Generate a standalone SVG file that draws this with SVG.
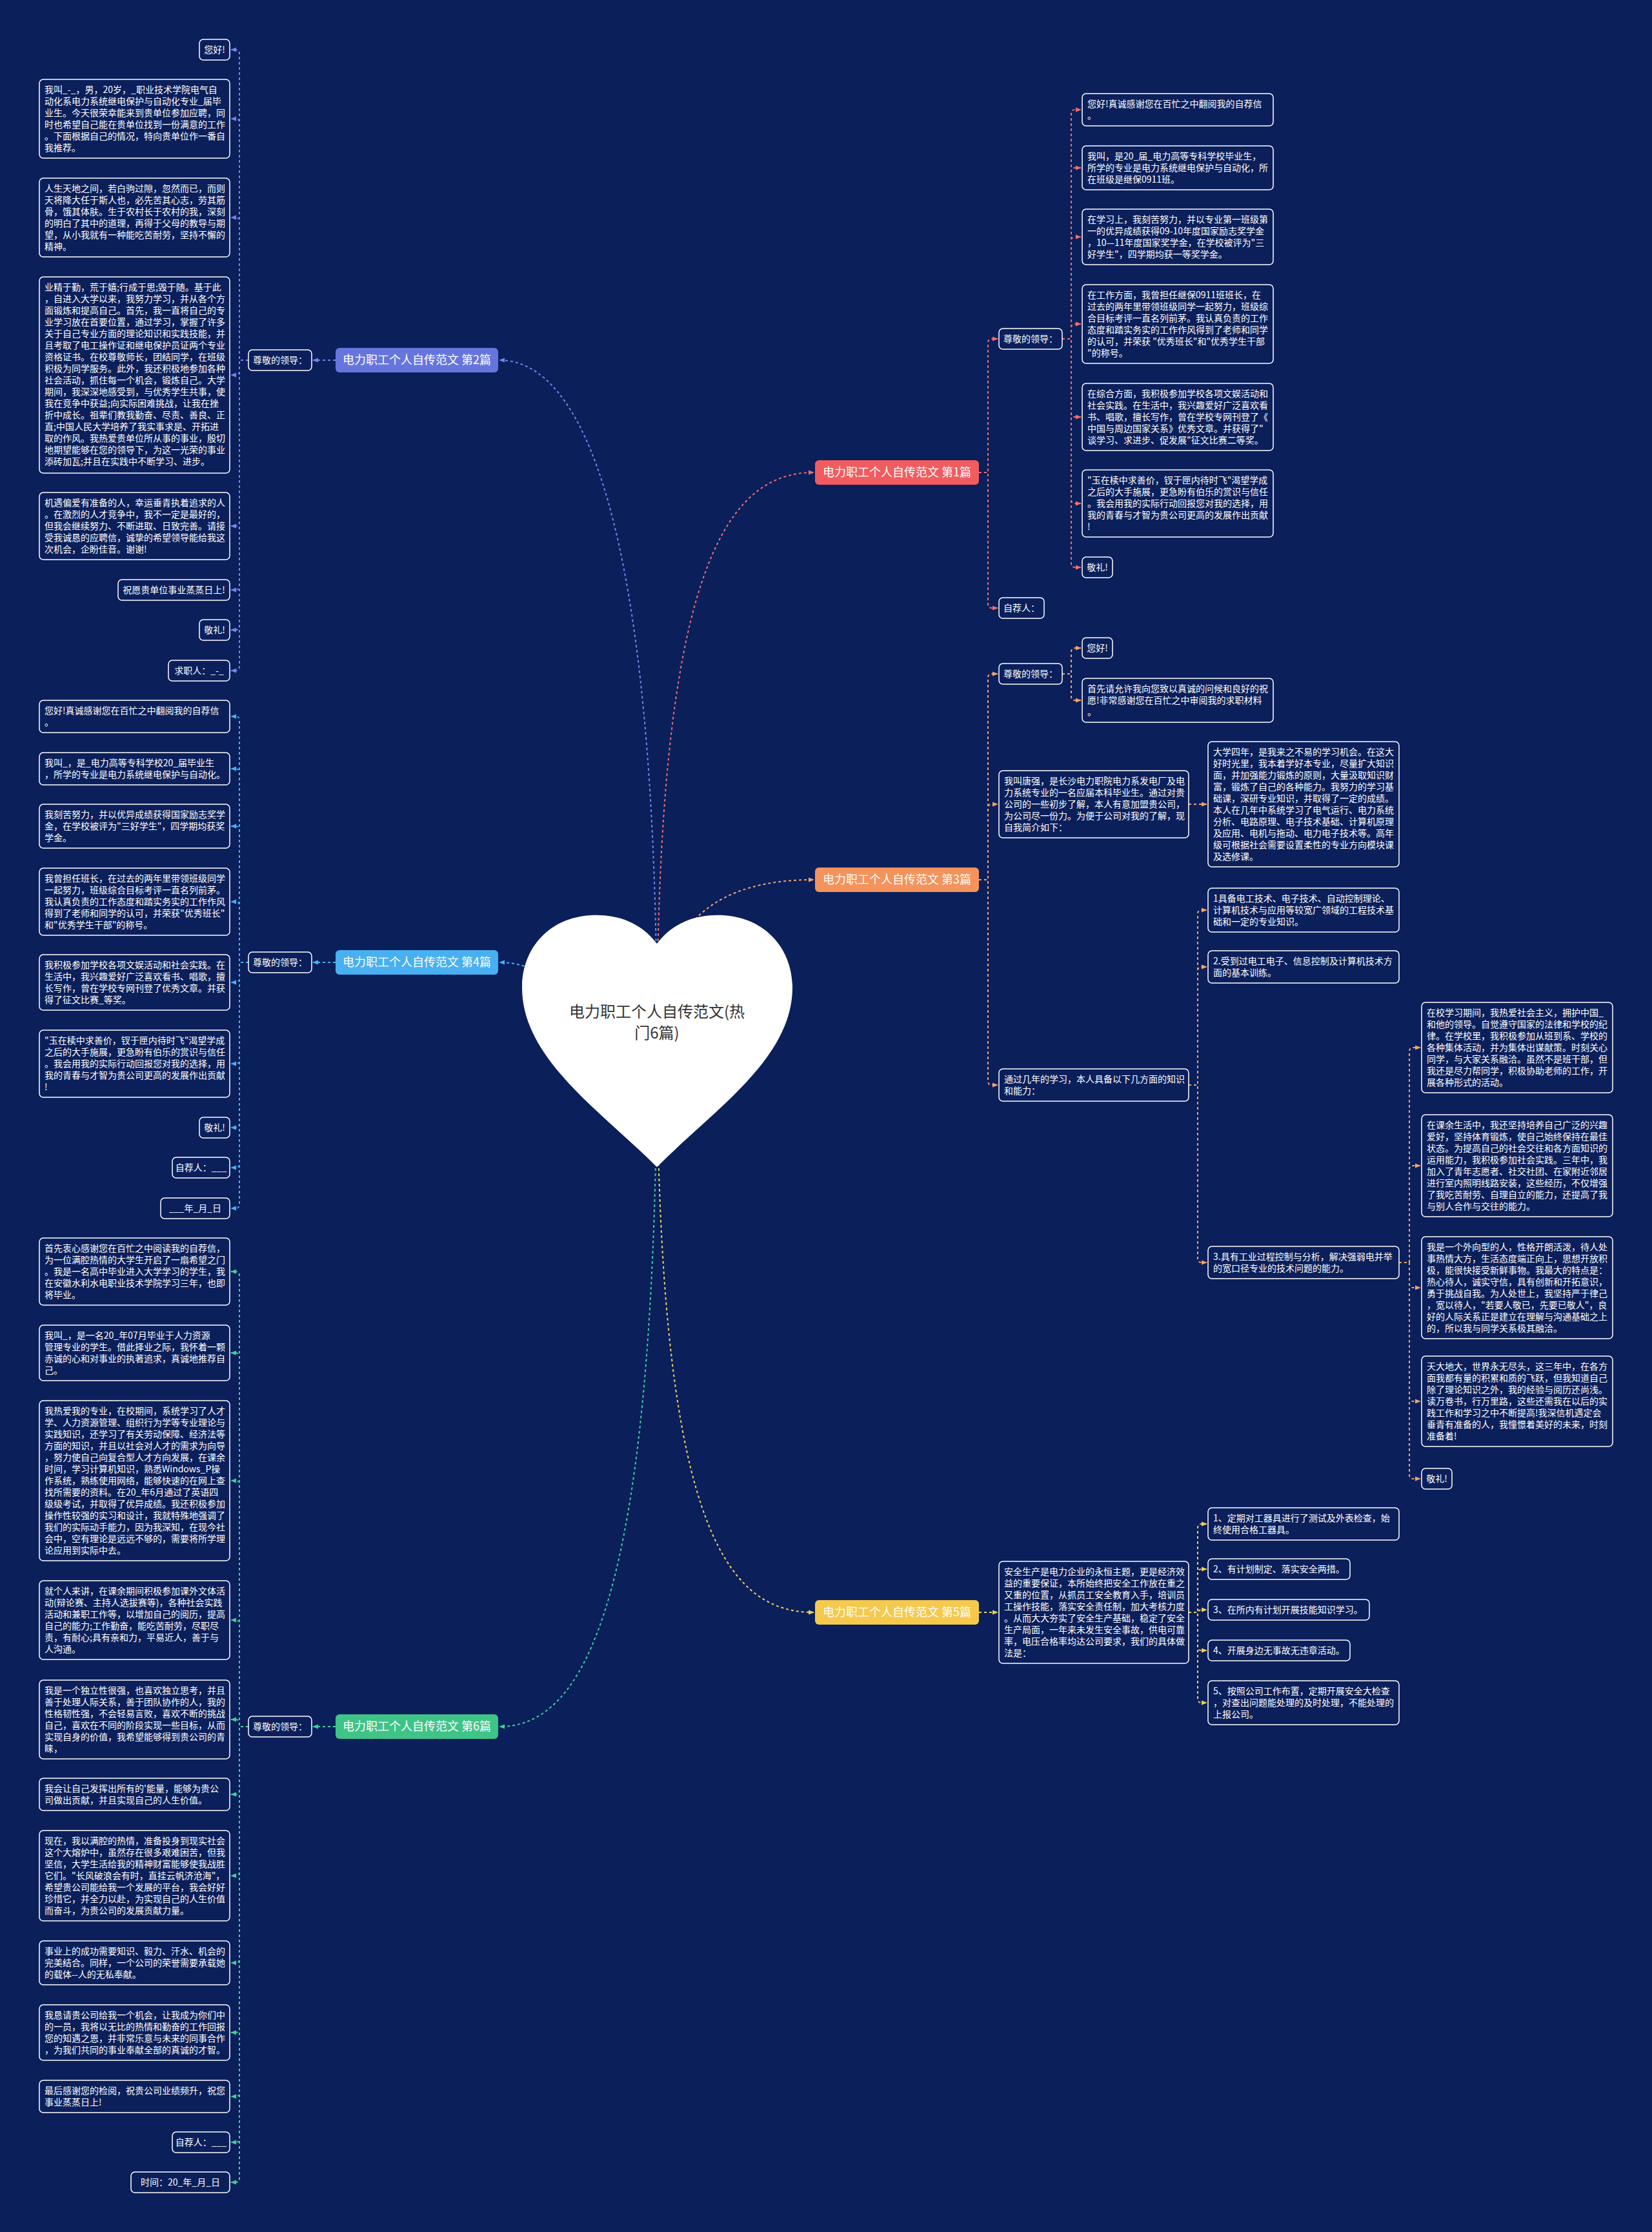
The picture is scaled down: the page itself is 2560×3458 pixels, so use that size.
<svg xmlns="http://www.w3.org/2000/svg" width="2560" height="3458" viewBox="0 0 2560 3458">
<defs>
<style>
.lf{fill:#0b1f5b;stroke:#ffffff;stroke-width:1.5}
.t{font-family:'Noto Sans CJK SC','Noto Sans',sans-serif;font-size:14px;fill:#ffffff}
.tm{font-family:'Noto Sans CJK SC','Noto Sans',sans-serif;font-size:14px;fill:#ffffff;text-anchor:middle}
.bt{font-family:'Noto Sans CJK SC','Noto Sans',sans-serif;font-size:18px;text-anchor:middle}
.ht{font-family:'Noto Sans CJK SC','Noto Sans',sans-serif;font-size:24px;fill:#333333;text-anchor:middle}
.c{fill:none;stroke-width:2;stroke-dasharray:4 4}
.k1{stroke:#f0706f}.k2{stroke:#7585ee}.k3{stroke:#f5a268}.k4{stroke:#45b2f5}.k5{stroke:#f0d25a}.k6{stroke:#3fd09a}
</style>
<marker id="a1" viewBox="0 0 10 10" refX="9" refY="5" markerWidth="9" markerHeight="9" markerUnits="userSpaceOnUse" orient="auto"><path d="M0 1L10 5L0 9z" fill="#f0706f"/></marker>
<marker id="a2" viewBox="0 0 10 10" refX="9" refY="5" markerWidth="9" markerHeight="9" markerUnits="userSpaceOnUse" orient="auto"><path d="M0 1L10 5L0 9z" fill="#7585ee"/></marker>
<marker id="a3" viewBox="0 0 10 10" refX="9" refY="5" markerWidth="9" markerHeight="9" markerUnits="userSpaceOnUse" orient="auto"><path d="M0 1L10 5L0 9z" fill="#f5a268"/></marker>
<marker id="a4" viewBox="0 0 10 10" refX="9" refY="5" markerWidth="9" markerHeight="9" markerUnits="userSpaceOnUse" orient="auto"><path d="M0 1L10 5L0 9z" fill="#45b2f5"/></marker>
<marker id="a5" viewBox="0 0 10 10" refX="9" refY="5" markerWidth="9" markerHeight="9" markerUnits="userSpaceOnUse" orient="auto"><path d="M0 1L10 5L0 9z" fill="#f0d25a"/></marker>
<marker id="a6" viewBox="0 0 10 10" refX="9" refY="5" markerWidth="9" markerHeight="9" markerUnits="userSpaceOnUse" orient="auto"><path d="M0 1L10 5L0 9z" fill="#3fd09a"/></marker>
</defs>
<rect x="0" y="0" width="2560" height="3458" fill="#0b1f5b"/>

<g id="connectors">
<g class="c k1" marker-end="url(#a1)">
<path d="M1018 1610C1018 900 1120 732 1261 732"/>
<path d="M1517 732H1531V531Q1531 525 1537 525H1546"/>
<path d="M1517 732H1531V936Q1531 942 1537 942H1546"/>
<path d="M1646 525H1660V176Q1660 170 1666 170H1675"/>
<path d="M1646 525H1660V266Q1660 260 1666 260H1675"/>
<path d="M1646 525H1660V373Q1660 367 1666 367H1675"/>
<path d="M1646 525H1660V508Q1660 502 1666 502H1675"/>
<path d="M1646 525H1660V640Q1660 646 1666 646H1675"/>
<path d="M1646 525H1660V774Q1660 780 1666 780H1675"/>
<path d="M1646 525H1660V873Q1660 879 1666 879H1675"/>
</g>
<g class="c k2" marker-end="url(#a2)">
<path d="M1018 1610C1018 800 900 558 774 558"/>
<path d="M520 558H485"/>
<path d="M385 558H371V83Q371 77 365 77H358"/>
<path d="M385 558H371V190Q371 184 365 184H358"/>
<path d="M385 558H371V343Q371 337 365 337H358"/>
<path d="M385 558H371V575Q371 581 365 581H358"/>
<path d="M385 558H371V809Q371 815 365 815H358"/>
<path d="M385 558H371V908Q371 914 365 914H358"/>
<path d="M385 558H371V970Q371 976 365 976H358"/>
<path d="M385 558H371V1033Q371 1039 365 1039H358"/>
</g>
<g class="c k3" marker-end="url(#a3)">
<path d="M1018 1610C1018 1420 1120 1363 1261 1363"/>
<path d="M1517 1363H1531V1050Q1531 1044 1537 1044H1546"/>
<path d="M1517 1363H1531V1252Q1531 1246 1537 1246H1546"/>
<path d="M1517 1363H1531V1675Q1531 1681 1537 1681H1546"/>
<path d="M1646 1044H1660V1010Q1660 1004 1666 1004H1675"/>
<path d="M1646 1044H1660V1079Q1660 1085 1666 1085H1675"/>
<path d="M1842 1246H1870"/>
<path d="M1842 1681H1856V1416Q1856 1410 1862 1410H1870"/>
<path d="M1842 1681H1856V1504Q1856 1498 1862 1498H1870"/>
<path d="M1842 1681H1856V1950Q1856 1956 1862 1956H1870"/>
<path d="M2168 1956H2184V1629Q2184 1623 2190 1623H2201"/>
<path d="M2168 1956H2184V1812Q2184 1806 2190 1806H2201"/>
<path d="M2168 1956H2184V1989Q2184 1995 2190 1995H2201"/>
<path d="M2168 1956H2184V2165Q2184 2171 2190 2171H2201"/>
<path d="M2168 1956H2184V2285Q2184 2291 2190 2291H2201"/>
</g>
<g class="c k4" marker-end="url(#a4)">
<path d="M1018 1610C900 1610 880 1491 774 1491"/>
<path d="M520 1491H485"/>
<path d="M385 1491H371V1116Q371 1110 365 1110H358"/>
<path d="M385 1491H371V1197Q371 1191 365 1191H358"/>
<path d="M385 1491H371V1286Q371 1280 365 1280H358"/>
<path d="M385 1491H371V1403Q371 1397 365 1397H358"/>
<path d="M385 1491H371V1516Q371 1522 365 1522H358"/>
<path d="M385 1491H371V1642Q371 1648 365 1648H358"/>
<path d="M385 1491H371V1741Q371 1747 365 1747H358"/>
<path d="M385 1491H371V1803Q371 1809 365 1809H358"/>
<path d="M385 1491H371V1866Q371 1872 365 1872H358"/>
</g>
<g class="c k5" marker-end="url(#a5)">
<path d="M1018 1610C1018 2350 1120 2498 1261 2498"/>
<path d="M1517 2498H1546"/>
<path d="M1842 2498H1856V2367Q1856 2361 1862 2361H1870"/>
<path d="M1842 2498H1856V2437Q1856 2431 1862 2431H1870"/>
<path d="M1842 2498H1856Q1858 2494 1862 2494H1870"/>
<path d="M1842 2498H1856V2551Q1856 2557 1862 2557H1870"/>
<path d="M1842 2498H1856V2632Q1856 2638 1862 2638H1870"/>
</g>
<g class="c k6" marker-end="url(#a6)">
<path d="M1018 1610C1018 2500 900 2675 774 2675"/>
<path d="M520 2675H485"/>
<path d="M385 2675H371V1976Q371 1970 365 1970H358"/>
<path d="M385 2675H371V2102Q371 2096 365 2096H358"/>
<path d="M385 2675H371V2300Q371 2294 365 2294H358"/>
<path d="M385 2675H371V2516Q371 2510 365 2510H358"/>
<path d="M385 2675H371V2670Q371 2664 365 2664H358"/>
<path d="M385 2675H371V2774Q371 2780 365 2780H358"/>
<path d="M385 2675H371V2900Q371 2906 365 2906H358"/>
<path d="M385 2675H371V3035Q371 3041 365 3041H358"/>
<path d="M385 2675H371V3143Q371 3149 365 3149H358"/>
<path d="M385 2675H371V3242Q371 3248 365 3248H358"/>
<path d="M385 2675H371V3313Q371 3319 365 3319H358"/>
<path d="M385 2675H371V3375Q371 3381 365 3381H358"/>
</g>
</g>

<g id="root">
<path d="M1018 1462C990 1425 950 1416 915 1418C850 1422 809 1470 809 1530C809 1640 930 1720 1018 1808C1106 1720 1228 1640 1228 1530C1228 1470 1186 1422 1121 1418C1086 1416 1046 1425 1018 1462Z" fill="#ffffff"/>
<text class="ht"><tspan x="1018" y="1576">电力职工个人自传范文(热</tspan><tspan x="1018" y="1609">门6篇)</tspan></text>
</g>

<g id="b1"><rect x="1263" y="713" width="254" height="38" rx="6" fill="#f15c5f"/><text class="bt" x="1390" y="738" fill="#ffffff">电力职工个人自传范文 第1篇</text></g>
<g id="b2"><rect x="520" y="539" width="252" height="38" rx="6" fill="#6675dd"/><text class="bt" x="646" y="564" fill="#ffffff">电力职工个人自传范文 第2篇</text></g>
<g id="b3"><rect x="1263" y="1344" width="254" height="38" rx="6" fill="#f4935b"/><text class="bt" x="1390" y="1369" fill="#ffffff">电力职工个人自传范文 第3篇</text></g>
<g id="b4"><rect x="520" y="1472" width="252" height="38" rx="6" fill="#48b0f0"/><text class="bt" x="646" y="1497" fill="#ffffff">电力职工个人自传范文 第4篇</text></g>
<g id="b5"><rect x="1263" y="2479" width="254" height="38" rx="6" fill="#f5c94c"/><text class="bt" x="1390" y="2504" fill="#ffffff">电力职工个人自传范文 第5篇</text></g>
<g id="b6"><rect x="520" y="2656" width="252" height="38" rx="6" fill="#3fc488"/><text class="bt" x="646" y="2681" fill="#ffffff">电力职工个人自传范文 第6篇</text></g>

<!-- branch 2 -->
<g id="b2-s"><rect class="lf" x="385" y="542" width="98" height="32" rx="6"/><text class="tm" x="434" y="563">尊敬的领导：</text></g>
<g id="b2-1"><rect class="lf" x="309" y="61" width="47" height="32" rx="6"/><text class="tm" x="332.5" y="82">您好!</text></g>
<g id="b2-2"><rect class="lf" x="61" y="123" width="295" height="122" rx="6"/><text class="t"><tspan x="69" y="144">我叫_-_，男，20岁，_职业技术学院电气自</tspan><tspan x="69" y="162">动化系电力系统继电保护与自动化专业_届毕</tspan><tspan x="69" y="180">业生。今天很荣幸能来到贵单位参加应聘，同</tspan><tspan x="69" y="198">时也希望自己能在贵单位找到一份满意的工作</tspan><tspan x="69" y="216">。下面根据自己的情况，特向贵单位作一番自</tspan><tspan x="69" y="234">我推荐。</tspan></text></g>
<g id="b2-3"><rect class="lf" x="61" y="276" width="295" height="122" rx="6"/><text class="t"><tspan x="69" y="297">人生天地之间，若白驹过隙，忽然而已，而则</tspan><tspan x="69" y="315">天将降大任于斯人也，必先苦其心志，劳其筋</tspan><tspan x="69" y="333">骨，饿其体肤。生于农村长于农村的我，深刻</tspan><tspan x="69" y="351">的明白了其中的道理，再得于父母的教导与期</tspan><tspan x="69" y="369">望，从小我就有一种能吃苦耐劳，坚持不懈的</tspan><tspan x="69" y="387">精神。</tspan></text></g>
<g id="b2-4"><rect class="lf" x="61" y="429" width="295" height="304" rx="6"/><text class="t"><tspan x="69" y="450">业精于勤，荒于嬉;行成于思;毁于随。基于此</tspan><tspan x="69" y="468">，自进入大学以来，我努力学习，并从各个方</tspan><tspan x="69" y="486">面锻炼和提高自己。首先，我一直将自己的专</tspan><tspan x="69" y="504">业学习放在首要位置，通过学习，掌握了许多</tspan><tspan x="69" y="522">关于自己专业方面的理论知识和实践技能，并</tspan><tspan x="69" y="540">且考取了电工操作证和继电保护员证两个专业</tspan><tspan x="69" y="558">资格证书。在校尊敬师长，团结同学，在班级</tspan><tspan x="69" y="576">积极为同学服务。此外，我还积极地参加各种</tspan><tspan x="69" y="594">社会活动，抓住每一个机会，锻炼自己。大学</tspan><tspan x="69" y="612">期间，我深深地感受到，与优秀学生共事，使</tspan><tspan x="69" y="630">我在竞争中获益;向实际困难挑战，让我在挫</tspan><tspan x="69" y="648">折中成长。祖辈们教我勤奋、尽责、善良、正</tspan><tspan x="69" y="666">直;中国人民大学培养了我实事求是、开拓进</tspan><tspan x="69" y="684">取的作风。我热爱贵单位所从事的事业，殷切</tspan><tspan x="69" y="702">地期望能够在您的领导下，为这一光荣的事业</tspan><tspan x="69" y="720">添砖加瓦;并且在实践中不断学习、进步。</tspan></text></g>
<g id="b2-5"><rect class="lf" x="61" y="763" width="295" height="104" rx="6"/><text class="t"><tspan x="69" y="784">机遇偏爱有准备的人，幸运垂青执着追求的人</tspan><tspan x="69" y="802">。在激烈的人才竞争中，我不一定是最好的，</tspan><tspan x="69" y="820">但我会继续努力、不断进取、日致完善。请接</tspan><tspan x="69" y="838">受我诚恳的应聘信，诚挚的希望领导能给我这</tspan><tspan x="69" y="856">次机会，企盼佳音。谢谢!</tspan></text></g>
<g id="b2-6"><rect class="lf" x="183" y="898" width="173" height="32" rx="6"/><text class="tm" x="269.5" y="919">祝愿贵单位事业蒸蒸日上!</text></g>
<g id="b2-7"><rect class="lf" x="309" y="960" width="47" height="32" rx="6"/><text class="tm" x="332.5" y="981">敬礼!</text></g>
<g id="b2-8"><rect class="lf" x="261" y="1023" width="95" height="32" rx="6"/><text class="tm" x="308.5" y="1044">求职人：_-_</text></g>

<!-- branch 4 -->
<g id="b4-s"><rect class="lf" x="385" y="1475" width="98" height="32" rx="6"/><text class="tm" x="434" y="1496">尊敬的领导：</text></g>
<g id="b4-1"><rect class="lf" x="61" y="1085" width="295" height="50" rx="6"/><text class="t"><tspan x="69" y="1106">您好!真诚感谢您在百忙之中翻阅我的自荐信</tspan><tspan x="69" y="1124">。</tspan></text></g>
<g id="b4-2"><rect class="lf" x="61" y="1166" width="295" height="50" rx="6"/><text class="t"><tspan x="69" y="1187">我叫_，是_电力高等专科学校20_届毕业生</tspan><tspan x="69" y="1205">，所学的专业是电力系统继电保护与自动化。</tspan></text></g>
<g id="b4-3"><rect class="lf" x="61" y="1246" width="295" height="68" rx="6"/><text class="t"><tspan x="69" y="1267">我刻苦努力，并以优异成绩获得国家励志奖学</tspan><tspan x="69" y="1285">金，在学校被评为"三好学生"，四学期均获奖</tspan><tspan x="69" y="1303">学金。</tspan></text></g>
<g id="b4-4"><rect class="lf" x="61" y="1345" width="295" height="104" rx="6"/><text class="t"><tspan x="69" y="1366">我曾担任班长，在过去的两年里带领班级同学</tspan><tspan x="69" y="1384">一起努力，班级综合目标考评一直名列前茅。</tspan><tspan x="69" y="1402">我认真负责的工作态度和踏实务实的工作作风</tspan><tspan x="69" y="1420">得到了老师和同学的认可，并荣获"优秀班长"</tspan><tspan x="69" y="1438">和"优秀学生干部"的称号。</tspan></text></g>
<g id="b4-5"><rect class="lf" x="61" y="1479" width="295" height="86" rx="6"/><text class="t"><tspan x="69" y="1500">我积极参加学校各项文娱活动和社会实践。在</tspan><tspan x="69" y="1518">生活中，我兴趣爱好广泛喜欢看书、唱歌，擅</tspan><tspan x="69" y="1536">长写作，曾在学校专网刊登了优秀文章。并获</tspan><tspan x="69" y="1554">得了征文比赛_等奖。</tspan></text></g>
<g id="b4-6"><rect class="lf" x="61" y="1596" width="295" height="104" rx="6"/><text class="t"><tspan x="69" y="1617">"玉在椟中求善价，钗于匣内待时飞"渴望学成</tspan><tspan x="69" y="1635">之后的大手施展，更急盼有伯乐的赏识与信任</tspan><tspan x="69" y="1653">。我会用我的实际行动回报您对我的选择，用</tspan><tspan x="69" y="1671">我的青春与才智为贵公司更高的发展作出贡献</tspan><tspan x="69" y="1689">!</tspan></text></g>
<g id="b4-7"><rect class="lf" x="309" y="1731" width="47" height="32" rx="6"/><text class="tm" x="332.5" y="1752">敬礼!</text></g>
<g id="b4-8"><rect class="lf" x="267" y="1793" width="89" height="32" rx="6"/><text class="tm" x="311.5" y="1814">自荐人：___</text></g>
<g id="b4-9"><rect class="lf" x="249" y="1856" width="107" height="32" rx="6"/><text class="tm" x="302.5" y="1877">___年_月_日</text></g>

<!-- branch 6 -->
<g id="b6-s"><rect class="lf" x="385" y="2659" width="98" height="32" rx="6"/><text class="tm" x="434" y="2680">尊敬的领导：</text></g>
<g id="b6-1"><rect class="lf" x="61" y="1918" width="295" height="104" rx="6"/><text class="t"><tspan x="69" y="1939">首先衷心感谢您在百忙之中阅读我的自荐信，</tspan><tspan x="69" y="1957">为一位满腔热情的大学生开启了一扇希望之门</tspan><tspan x="69" y="1975">。我是一名高中毕业进入大学学习的学生，我</tspan><tspan x="69" y="1993">在安徽水利水电职业技术学院学习三年，也即</tspan><tspan x="69" y="2011">将毕业。</tspan></text></g>
<g id="b6-2"><rect class="lf" x="61" y="2053" width="295" height="86" rx="6"/><text class="t"><tspan x="69" y="2074">我叫_，是一名20_年07月毕业于人力资源</tspan><tspan x="69" y="2092">管理专业的学生。借此择业之际，我怀着一颗</tspan><tspan x="69" y="2110">赤诚的心和对事业的执著追求，真诚地推荐自</tspan><tspan x="69" y="2128">己。</tspan></text></g>
<g id="b6-3"><rect class="lf" x="61" y="2170" width="295" height="248" rx="6"/><text class="t"><tspan x="69" y="2191">我热爱我的专业，在校期间，系统学习了人才</tspan><tspan x="69" y="2209">学、人力资源管理、组织行为学等专业理论与</tspan><tspan x="69" y="2227">实践知识，还学习了有关劳动保障、经济法等</tspan><tspan x="69" y="2245">方面的知识，并且以社会对人才的需求为向导</tspan><tspan x="69" y="2263">，努力使自己向复合型人才方向发展，在课余</tspan><tspan x="69" y="2281">时间，学习计算机知识，熟悉Windows_P操</tspan><tspan x="69" y="2299">作系统，熟练使用网络，能够快速的在网上查</tspan><tspan x="69" y="2317">找所需要的资料。在20_年6月通过了英语四</tspan><tspan x="69" y="2335">级级考试，并取得了优异成绩。我还积极参加</tspan><tspan x="69" y="2353">操作性较强的实习和设计，我就特殊地强调了</tspan><tspan x="69" y="2371">我们的实际动手能力，因为我深知，在现今社</tspan><tspan x="69" y="2389">会中，空有理论是远远不够的，需要将所学理</tspan><tspan x="69" y="2407">论应用到实际中去。</tspan></text></g>
<g id="b6-4"><rect class="lf" x="61" y="2449" width="295" height="122" rx="6"/><text class="t"><tspan x="69" y="2470">就个人来讲，在课余期间积极参加课外文体活</tspan><tspan x="69" y="2488">动(辩论赛、主持人选拔赛等)，各种社会实践</tspan><tspan x="69" y="2506">活动和兼职工作等，以增加自己的阅历，提高</tspan><tspan x="69" y="2524">自己的能力;工作勤奋，能吃苦耐劳，尽职尽</tspan><tspan x="69" y="2542">责，有耐心;具有亲和力，平易近人，善于与</tspan><tspan x="69" y="2560">人沟通。</tspan></text></g>
<g id="b6-5"><rect class="lf" x="61" y="2603" width="295" height="122" rx="6"/><text class="t"><tspan x="69" y="2624">我是一个独立性很强，也喜欢独立思考，并且</tspan><tspan x="69" y="2642">善于处理人际关系，善于团队协作的人，我的</tspan><tspan x="69" y="2660">性格韧性强，不会轻易言败，喜欢不断的挑战</tspan><tspan x="69" y="2678">自己，喜欢在不同的阶段实现一些目标，从而</tspan><tspan x="69" y="2696">实现自身的价值，我希望能够得到贵公司的青</tspan><tspan x="69" y="2714">睐，</tspan></text></g>
<g id="b6-6"><rect class="lf" x="61" y="2755" width="295" height="50" rx="6"/><text class="t"><tspan x="69" y="2776">我会让自己发挥出所有的'能量，能够为贵公</tspan><tspan x="69" y="2794">司做出贡献，并且实现自己的人生价值。</tspan></text></g>
<g id="b6-7"><rect class="lf" x="61" y="2836" width="295" height="140" rx="6"/><text class="t"><tspan x="69" y="2857">现在，我以满腔的热情，准备投身到现实社会</tspan><tspan x="69" y="2875">这个大熔炉中，虽然存在很多艰难困苦，但我</tspan><tspan x="69" y="2893">坚信，大学生活给我的精神财富能够使我战胜</tspan><tspan x="69" y="2911">它们。"长风破浪会有时，直挂云帆济沧海"，</tspan><tspan x="69" y="2929">希望贵公司能给我一个发展的平台，我会好好</tspan><tspan x="69" y="2947">珍惜它，并全力以赴，为实现自己的人生价值</tspan><tspan x="69" y="2965">而奋斗，为贵公司的发展贡献力量。</tspan></text></g>
<g id="b6-8"><rect class="lf" x="61" y="3007" width="295" height="68" rx="6"/><text class="t"><tspan x="69" y="3028">事业上的成功需要知识、毅力、汗水、机会的</tspan><tspan x="69" y="3046">完美结合。同样，一个公司的荣誉需要承载她</tspan><tspan x="69" y="3064">的载体--人的无私奉献。</tspan></text></g>
<g id="b6-9"><rect class="lf" x="61" y="3106" width="295" height="86" rx="6"/><text class="t"><tspan x="69" y="3127">我恳请贵公司给我一个机会，让我成为你们中</tspan><tspan x="69" y="3145">的一员，我将以无比的热情和勤奋的工作回报</tspan><tspan x="69" y="3163">您的知遇之恩，并非常乐意与未来的同事合作</tspan><tspan x="69" y="3181">，为我们共同的事业奉献全部的真诚的才智。</tspan></text></g>
<g id="b6-10"><rect class="lf" x="61" y="3223" width="295" height="50" rx="6"/><text class="t"><tspan x="69" y="3244">最后感谢您的检阅，祝贵公司业绩频升，祝您</tspan><tspan x="69" y="3262">事业蒸蒸日上!</tspan></text></g>
<g id="b6-11"><rect class="lf" x="267" y="3303" width="89" height="32" rx="6"/><text class="tm" x="311.5" y="3324">自荐人：___</text></g>
<g id="b6-12"><rect class="lf" x="203" y="3365" width="153" height="32" rx="6"/><text class="tm" x="279.5" y="3386">时间：20_年_月_日</text></g>

<!-- branch 1 -->
<g id="b1-s1"><rect class="lf" x="1548" y="509" width="98" height="32" rx="6"/><text class="tm" x="1597" y="530">尊敬的领导：</text></g>
<g id="b1-s2"><rect class="lf" x="1548" y="926" width="70" height="32" rx="6"/><text class="tm" x="1583" y="947">自荐人：</text></g>
<g id="b1-1"><rect class="lf" x="1677" y="145" width="296" height="50" rx="6"/><text class="t"><tspan x="1685" y="166">您好!真诚感谢您在百忙之中翻阅我的自荐信</tspan><tspan x="1685" y="184">。</tspan></text></g>
<g id="b1-2"><rect class="lf" x="1677" y="226" width="296" height="68" rx="6"/><text class="t"><tspan x="1685" y="247">我叫，是20_届_电力高等专科学校毕业生，</tspan><tspan x="1685" y="265">所学的专业是电力系统继电保护与自动化，所</tspan><tspan x="1685" y="283">在班级是继保0911班。</tspan></text></g>
<g id="b1-3"><rect class="lf" x="1677" y="324" width="296" height="86" rx="6"/><text class="t"><tspan x="1685" y="345">在学习上，我刻苦努力，并以专业第一班级第</tspan><tspan x="1685" y="363">一的优异成绩获得09-10年度国家励志奖学金</tspan><tspan x="1685" y="381">，10—11年度国家奖学金，在学校被评为"三</tspan><tspan x="1685" y="399">好学生"，四学期均获一等奖学金。</tspan></text></g>
<g id="b1-4"><rect class="lf" x="1677" y="441" width="296" height="122" rx="6"/><text class="t"><tspan x="1685" y="462">在工作方面，我曾担任继保0911班班长，在</tspan><tspan x="1685" y="480">过去的两年里带领班级同学一起努力，班级综</tspan><tspan x="1685" y="498">合目标考评一直名列前茅。我认真负责的工作</tspan><tspan x="1685" y="516">态度和踏实务实的工作作风得到了老师和同学</tspan><tspan x="1685" y="534">的认可，并荣获 "优秀班长"和"优秀学生干部</tspan><tspan x="1685" y="552">"的称号。</tspan></text></g>
<g id="b1-5"><rect class="lf" x="1677" y="594" width="296" height="104" rx="6"/><text class="t"><tspan x="1685" y="615">在综合方面，我积极参加学校各项文娱活动和</tspan><tspan x="1685" y="633">社会实践。在生活中，我兴趣爱好广泛喜欢看</tspan><tspan x="1685" y="651">书、唱歌，擅长写作，曾在学校专网刊登了《</tspan><tspan x="1685" y="669">中国与周边国家关系》优秀文章。并获得了"</tspan><tspan x="1685" y="687">谈学习、求进步、促发展"征文比赛二等奖。</tspan></text></g>
<g id="b1-6"><rect class="lf" x="1677" y="728" width="296" height="104" rx="6"/><text class="t"><tspan x="1685" y="749">"玉在椟中求善价，钗于匣内待时飞"渴望学成</tspan><tspan x="1685" y="767">之后的大手施展，更急盼有伯乐的赏识与信任</tspan><tspan x="1685" y="785">。我会用我的实际行动回报您对我的选择，用</tspan><tspan x="1685" y="803">我的青春与才智为贵公司更高的发展作出贡献</tspan><tspan x="1685" y="821">!</tspan></text></g>
<g id="b1-7"><rect class="lf" x="1677" y="863" width="47" height="32" rx="6"/><text class="tm" x="1700.5" y="884">敬礼!</text></g>

<!-- branch 3 -->
<g id="b3-s1"><rect class="lf" x="1548" y="1028" width="98" height="32" rx="6"/><text class="tm" x="1597" y="1049">尊敬的领导：</text></g>
<g id="b3-1"><rect class="lf" x="1677" y="988" width="47" height="32" rx="6"/><text class="tm" x="1700.5" y="1009">您好!</text></g>
<g id="b3-2"><rect class="lf" x="1677" y="1051" width="296" height="68" rx="6"/><text class="t"><tspan x="1685" y="1072">首先请允许我向您致以真诚的问候和良好的祝</tspan><tspan x="1685" y="1090">愿!非常感谢您在百忙之中审阅我的求职材料</tspan><tspan x="1685" y="1108">。</tspan></text></g>
<g id="b3-s2"><rect class="lf" x="1548" y="1194" width="294" height="104" rx="6"/><text class="t"><tspan x="1556" y="1215">我叫唐强，是长沙电力职院电力系发电厂及电</tspan><tspan x="1556" y="1233">力系统专业的一名应届本科毕业生。通过对贵</tspan><tspan x="1556" y="1251">公司的一些初步了解，本人有意加盟贵公司，</tspan><tspan x="1556" y="1269">为公司尽一份力。为便于公司对我的了解，现</tspan><tspan x="1556" y="1287">自我简介如下：</tspan></text></g>
<g id="b3-3"><rect class="lf" x="1872" y="1149" width="296" height="194" rx="6"/><text class="t"><tspan x="1880" y="1170">大学四年，是我来之不易的学习机会。在这大</tspan><tspan x="1880" y="1188">好时光里，我本着学好本专业，尽量扩大知识</tspan><tspan x="1880" y="1206">面，并加强能力锻炼的原则，大量汲取知识财</tspan><tspan x="1880" y="1224">富，锻炼了自己的各种能力。我努力的学习基</tspan><tspan x="1880" y="1242">础课，深研专业知识，并取得了一定的成绩。</tspan><tspan x="1880" y="1260">本人在几年中系统学习了电气运行、电力系统</tspan><tspan x="1880" y="1278">分析、电路原理、电子技术基础、计算机原理</tspan><tspan x="1880" y="1296">及应用、电机与拖动、电力电子技术等。高年</tspan><tspan x="1880" y="1314">级可根据社会需要设置柔性的专业方向模块课</tspan><tspan x="1880" y="1332">及选修课。</tspan></text></g>
<g id="b3-s3"><rect class="lf" x="1548" y="1656" width="294" height="50" rx="6"/><text class="t"><tspan x="1556" y="1677">通过几年的学习，本人具备以下几方面的知识</tspan><tspan x="1556" y="1695">和能力：</tspan></text></g>
<g id="b3-4"><rect class="lf" x="1872" y="1376" width="296" height="68" rx="6"/><text class="t"><tspan x="1880" y="1397">1具备电工技术、电子技术、自动控制理论、</tspan><tspan x="1880" y="1415">计算机技术与应用等较宽广领域的工程技术基</tspan><tspan x="1880" y="1433">础和一定的专业知识。</tspan></text></g>
<g id="b3-5"><rect class="lf" x="1872" y="1473" width="296" height="50" rx="6"/><text class="t"><tspan x="1880" y="1494">2.受到过电工电子、信息控制及计算机技术方</tspan><tspan x="1880" y="1512">面的基本训练。</tspan></text></g>
<g id="b3-6"><rect class="lf" x="1872" y="1931" width="296" height="50" rx="6"/><text class="t"><tspan x="1880" y="1952">3.具有工业过程控制与分析，解决强弱电并举</tspan><tspan x="1880" y="1970">的宽口径专业的技术问题的能力。</tspan></text></g>
<g id="b3-7"><rect class="lf" x="2203" y="1553" width="296" height="140" rx="6"/><text class="t"><tspan x="2211" y="1574">在校学习期间，我热爱社会主义，拥护中国_</tspan><tspan x="2211" y="1592">和他的领导。自觉遵守国家的法律和学校的纪</tspan><tspan x="2211" y="1610">律。在学校里，我积极参加从班到系、学校的</tspan><tspan x="2211" y="1628">各种集体活动，并为集体出谋献策。时刻关心</tspan><tspan x="2211" y="1646">同学，与大家关系融洽。虽然不是班干部，但</tspan><tspan x="2211" y="1664">我还是尽力帮同学，积极协助老师的工作，开</tspan><tspan x="2211" y="1682">展各种形式的活动。</tspan></text></g>
<g id="b3-8"><rect class="lf" x="2203" y="1727" width="296" height="158" rx="6"/><text class="t"><tspan x="2211" y="1748">在课余生活中，我还坚持培养自己广泛的兴趣</tspan><tspan x="2211" y="1766">爱好，坚持体育锻炼，使自己始终保持在最佳</tspan><tspan x="2211" y="1784">状态。为提高自己的社会交往和各方面知识的</tspan><tspan x="2211" y="1802">运用能力，我积极参加社会实践。三年中，我</tspan><tspan x="2211" y="1820">加入了青年志愿者、社交社团、在家附近邻居</tspan><tspan x="2211" y="1838">进行室内照明线路安装，这些经历，不仅增强</tspan><tspan x="2211" y="1856">了我吃苦耐劳、自理自立的能力，还提高了我</tspan><tspan x="2211" y="1874">与别人合作与交往的能力。</tspan></text></g>
<g id="b3-9"><rect class="lf" x="2203" y="1916" width="296" height="158" rx="6"/><text class="t"><tspan x="2211" y="1937">我是一个外向型的人，性格开朗活泼，待人处</tspan><tspan x="2211" y="1955">事热情大方，生活态度端正向上，思想开放积</tspan><tspan x="2211" y="1973">极，能很快接受新鲜事物。我最大的特点是：</tspan><tspan x="2211" y="1991">热心待人，诚实守信，具有创新和开拓意识，</tspan><tspan x="2211" y="2009">勇于挑战自我。为人处世上，我坚持严于律己</tspan><tspan x="2211" y="2027">，宽以待人，"若要人敬已，先要已敬人"，良</tspan><tspan x="2211" y="2045">好的人际关系正是建立在理解与沟通基础之上</tspan><tspan x="2211" y="2063">的，所以我与同学关系极其融洽。</tspan></text></g>
<g id="b3-10"><rect class="lf" x="2203" y="2101" width="296" height="140" rx="6"/><text class="t"><tspan x="2211" y="2122">天大地大，世界永无尽头，这三年中，在各方</tspan><tspan x="2211" y="2140">面我都有量的积累和质的飞跃，但我知道自己</tspan><tspan x="2211" y="2158">除了理论知识之外，我的经验与阅历还尚浅。</tspan><tspan x="2211" y="2176">读万卷书，行万里路，这些还需我在以后的实</tspan><tspan x="2211" y="2194">践工作和学习之中不断提高!我深信机遇定会</tspan><tspan x="2211" y="2212">垂青有准备的人，我憧憬着美好的未来，时刻</tspan><tspan x="2211" y="2230">准备着!</tspan></text></g>
<g id="b3-11"><rect class="lf" x="2203" y="2275" width="47" height="32" rx="6"/><text class="tm" x="2226.5" y="2296">敬礼!</text></g>

<!-- branch 5 -->
<g id="b5-s"><rect class="lf" x="1548" y="2419" width="294" height="158" rx="6"/><text class="t"><tspan x="1556" y="2440">安全生产是电力企业的永恒主题，更是经济效</tspan><tspan x="1556" y="2458">益的重要保证，本所始终把安全工作放在重之</tspan><tspan x="1556" y="2476">又重的位置，从抓员工安全教育入手，培训员</tspan><tspan x="1556" y="2494">工操作技能，落实安全责任制，加大考核力度</tspan><tspan x="1556" y="2512">。从而大大夯实了安全生产基础，稳定了安全</tspan><tspan x="1556" y="2530">生产局面，一年来未发生安全事故，供电可靠</tspan><tspan x="1556" y="2548">率，电压合格率均达公司要求，我们的具体做</tspan><tspan x="1556" y="2566">法是：</tspan></text></g>
<g id="b5-1"><rect class="lf" x="1872" y="2336" width="296" height="50" rx="6"/><text class="t"><tspan x="1880" y="2357">1、定期对工器具进行了测试及外表检查，始</tspan><tspan x="1880" y="2375">终使用合格工器具。</tspan></text></g>
<g id="b5-2"><rect class="lf" x="1872" y="2415" width="220" height="32" rx="6"/><text class="t" x="1880" y="2436">2、有计划制定、落实安全两措。</text></g>
<g id="b5-3"><rect class="lf" x="1872" y="2478" width="250" height="32" rx="6"/><text class="t" x="1880" y="2499">3、在所内有计划开展技能知识学习。</text></g>
<g id="b5-4"><rect class="lf" x="1872" y="2541" width="220" height="32" rx="6"/><text class="t" x="1880" y="2562">4、开展身边无事故无违章活动。</text></g>
<g id="b5-5"><rect class="lf" x="1872" y="2604" width="296" height="68" rx="6"/><text class="t"><tspan x="1880" y="2625">5、按照公司工作布置，定期开展安全大检查</tspan><tspan x="1880" y="2643">，对查出问题能处理的及时处理，不能处理的</tspan><tspan x="1880" y="2661">上报公司。</tspan></text></g>
</svg>
